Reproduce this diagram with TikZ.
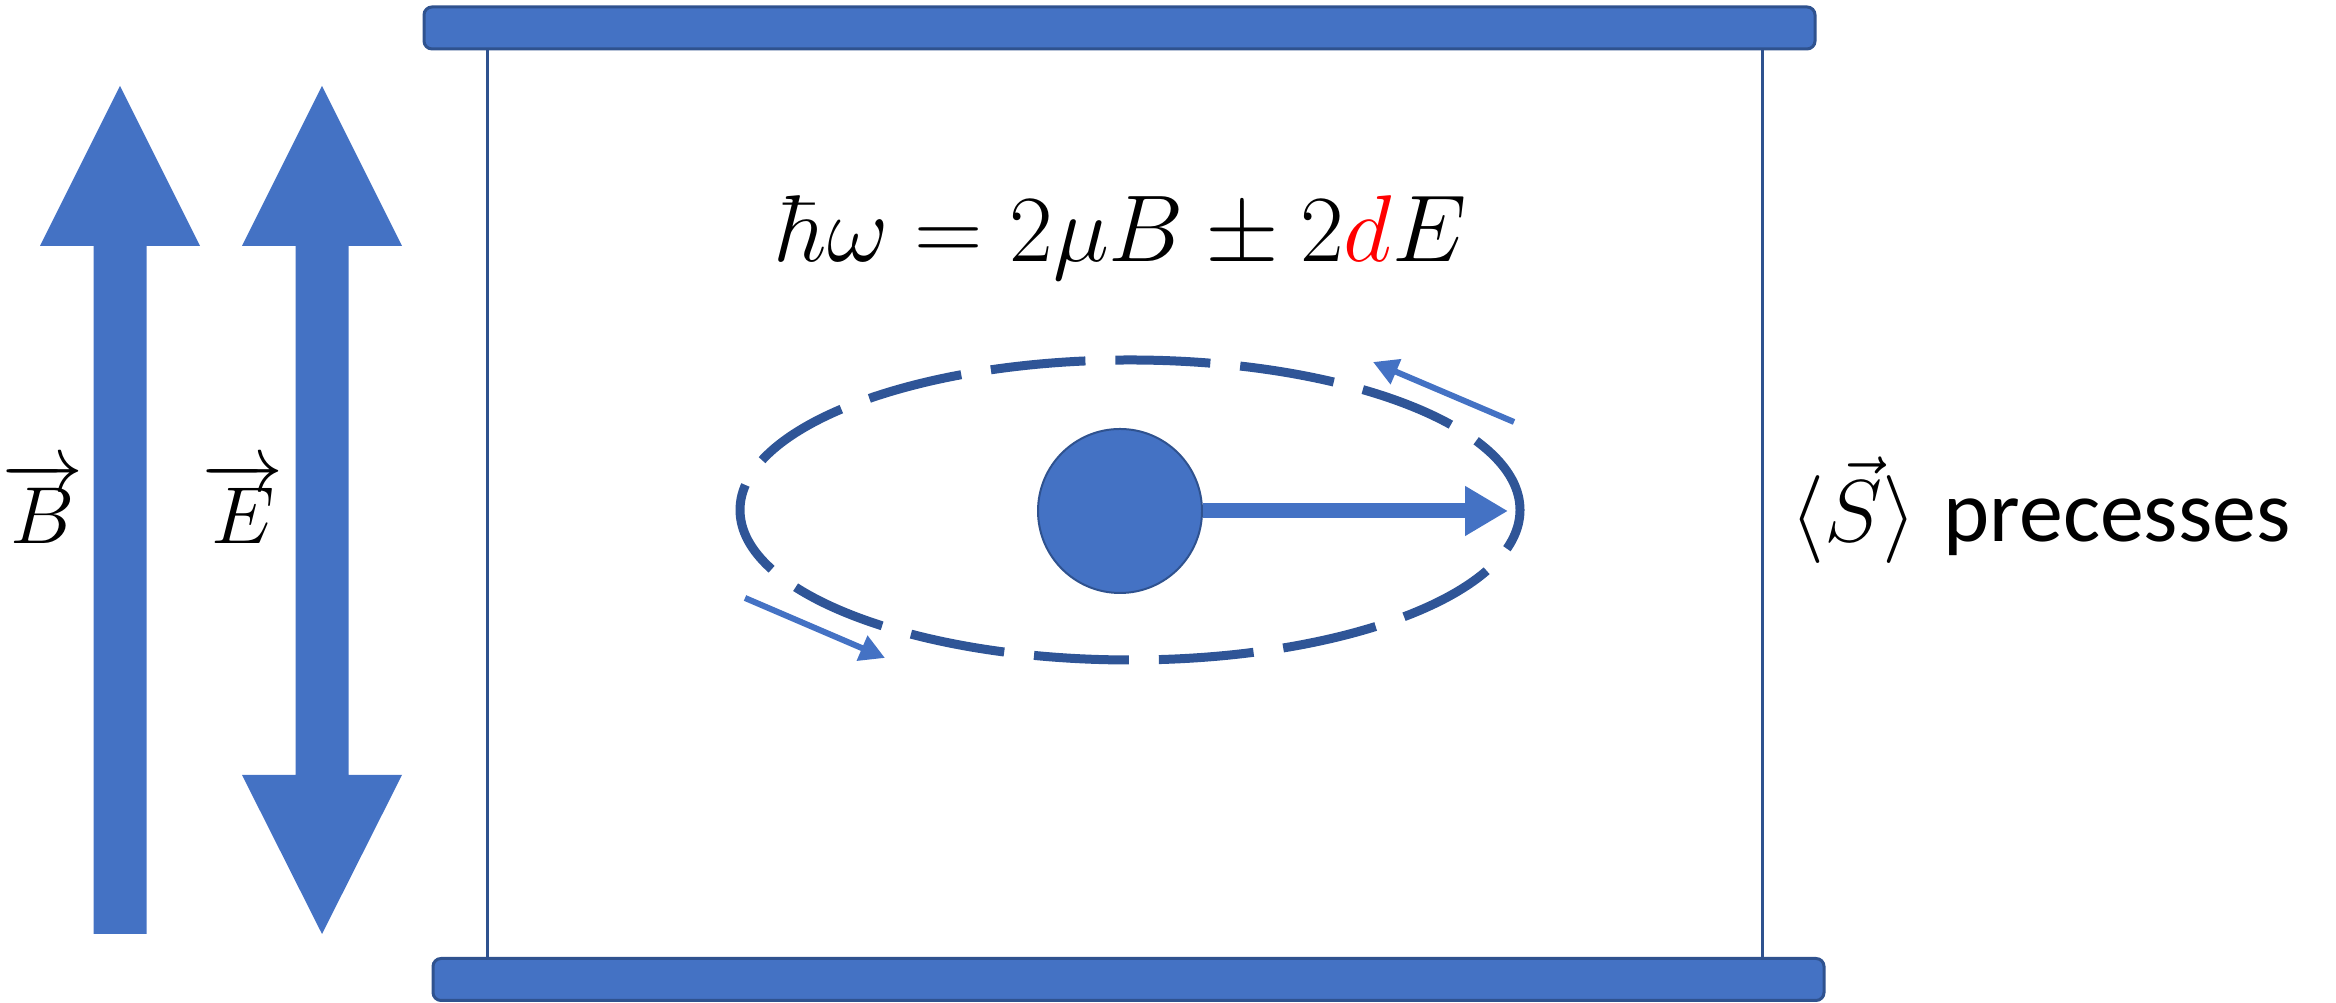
\RequirePackage{fix-cm}
\documentclass[tikz,border=0pt]{standalone}
\usepackage{fontspec}
\newfontfamily\labelfont{Carlito}
\usepackage{tikz}
\usetikzlibrary{arrows.meta,positioning,calc}
\definecolor{fieldblue}{RGB}{68,114,196}
\definecolor{plateedge}{RGB}{47,82,143}
\definecolor{orbitblue}{RGB}{47,85,151}

\begin{document}
\begin{tikzpicture}[
  plate/.style={draw=plateedge, line width=0.03cm, fill=fieldblue, rounded corners=0.08cm,
    minimum width=13.91cm, minimum height=0.42cm, inner sep=0pt},
  wire/.style={draw=plateedge, line width=0.03cm},
  field/.style={fill=fieldblue},
  orbit/.style={draw=orbitblue, line width=0.09cm, dash pattern=on 0.95cm off 0.3cm, dash phase=0.1cm},
  ionball/.style={circle, draw=plateedge, line width=0.02cm, fill=fieldblue,
    minimum size=1.64cm, inner sep=0pt},
  spin/.style={-{Triangle[length=0.43cm,width=0.47cm]}, line width=0.15cm, fieldblue},
  sense/.style={-{Triangle[length=0.25cm,width=0.26cm]}, line width=0.06cm, fieldblue},
  lbl/.style={font=\fontsize{25}{30}\selectfont, inner sep=0pt},
  vlbl/.style={font=\fontsize{23}{28}\selectfont, inner sep=0pt, anchor=east}
]
\useasboundingbox (0,0) rectangle (23.36,10.03);
\node[plate] (top) at (11.195,9.75) {};
\node[plate] (bot) at (11.285,0.235) {};
\coordinate (wl) at ([xshift=0.65cm]top.south west);
\coordinate (wr) at ([xshift=-0.54cm]top.south east);
\draw[wire] (wl) -- (wl |- bot.north);
\draw[wire] (wr) -- (wr |- bot.north);
\fill[field] (1.20,9.17) -- (2.00,7.57) -- (1.465,7.57) -- (1.465,0.69)
  -- (0.935,0.69) -- (0.935,7.57) -- (0.40,7.57) -- cycle;
\fill[field] (3.22,9.17) -- (4.02,7.57) -- (3.485,7.57) -- (3.485,2.28) -- (4.02,2.28)
  -- (3.22,0.69) -- (2.42,2.28) -- (2.955,2.28) -- (2.955,7.57) -- (2.42,7.57) -- cycle;
\node[vlbl] (blbl) at (0.84,5.00) {$\overrightarrow{B}$};
\node[vlbl] (elbl) at (2.84,5.00) {$\overrightarrow{E}$};
\node[lbl, font=\fontsize{27}{32}\selectfont, anchor=base] (eq) at (11.22,7.41)
  {$\hbar\omega = 2\mu B \pm 2{\color{red}d}E$};
\coordinate (orbitc) at (11.30,4.93);
\draw[orbit] (orbitc) ellipse [x radius=3.90, y radius=1.50];
\node[ionball] (ion) at (11.20,4.92) {};
\coordinate (spintip) at (15.08,4.92);
\draw[spin] (ion.east) -- (spintip);
\coordinate (s1a) at (15.14,5.81);
\coordinate (s1b) at (13.73,6.41);
\coordinate (s2a) at (7.45,4.05);
\coordinate (s2b) at (8.85,3.45);
\draw[sense] (s1a) -- (s1b);
\draw[sense] (s2a) -- (s2b);
\node[lbl, anchor=base west] (prec) at (17.90,4.61)
  {$\bigl\langle\vec{S}\bigr\rangle$ {\labelfont precesses}};
\end{tikzpicture}
\end{document}
